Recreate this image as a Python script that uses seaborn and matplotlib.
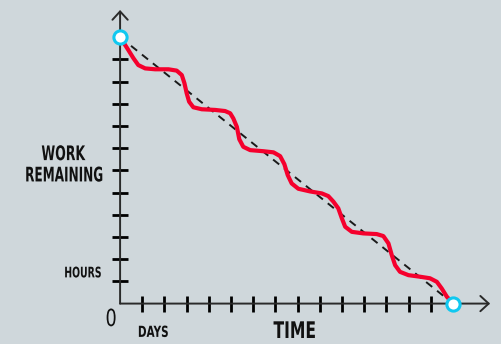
import matplotlib
matplotlib.use('Agg')
import matplotlib.pyplot as plt
from matplotlib import patheffects
from matplotlib.transforms import Affine2D
import seaborn as sns
import pandas as pd

# burndown curve (days, hours remaining)
curve_days = [0, 0.37, 0.60, 0.82, 1.13, 1.58, 2.18, 2.55, 2.78, 2.90, 3.00, 3.11,
              3.30, 3.68, 4.28, 4.73, 4.96, 5.10, 5.26, 5.37, 5.55, 5.86, 6.46, 6.91,
              7.21, 7.40, 7.55, 7.73, 8.03, 8.56, 9.09, 9.38, 9.61, 9.83, 9.99, 10.14,
              10.44, 10.96, 11.56, 11.86, 12.09, 12.24, 12.39, 12.61, 12.99, 13.51,
              13.96, 14.27, 14.49, 14.72, 15.0]
curve_hours = [12.0, 11.42, 11.05, 10.74, 10.59, 10.55, 10.55, 10.49, 10.29, 9.92, 9.47, 9.09,
               8.84, 8.75, 8.72, 8.67, 8.57, 8.34, 7.96, 7.40, 7.06, 6.91, 6.86, 6.81,
               6.64, 6.28, 5.79, 5.41, 5.17, 5.05, 4.96, 4.84, 4.59, 4.29, 3.84, 3.46,
               3.23, 3.16, 3.13, 3.04, 2.71, 2.18, 1.73, 1.43, 1.28, 1.21,
               1.14, 0.98, 0.68, 0.31, 0.0]
ideal_days = [0, 15]
ideal_hours = [12, 0]
day_ticks = list(range(1, 15))
hour_ticks = list(range(1, 12))

BG = '#cfd7db'
RED = '#f5002d'
CYAN = '#10c8f0'


class Narrow(patheffects.AbstractPathEffect):
    """squeeze glyphs sideways around their own centre (hand-lettered look)"""
    def __init__(self, sx):
        super().__init__()
        self.sx = sx

    def draw_path(self, renderer, gc, tpath, affine, rgbFace=None):
        ext = tpath.get_extents()
        cx = (ext.x0 + ext.x1) / 2
        squeeze = Affine2D().translate(-cx, 0).scale(self.sx, 1).translate(cx, 0)
        renderer.draw_path(gc, tpath, squeeze + affine, rgbFace)


sns.set_style('white', {'axes.facecolor': BG, 'figure.facecolor': BG})
plt.rcParams['font.family'] = ['DejaVu Sans']

fig = plt.figure(figsize=(5.01, 3.44), dpi=100)
ax = fig.add_axes([0, 0, 1, 1])
ax.set_xlim(-5.41, 17.16)
ax.set_ylim(-1.82, 13.67)

curve = pd.DataFrame({'day': curve_days, 'hours': curve_hours})
ideal = pd.DataFrame({'day': ideal_days, 'hours': ideal_hours})

sns.lineplot(data=ideal, x='day', y='hours', ax=ax, color='#1a1a1a', lw=1.4,
             linestyle=(0, (4, 3.2)), zorder=3)
sns.lineplot(data=curve, x='day', y='hours', ax=ax, color=RED, lw=3.0,
             sort=False, zorder=4, solid_capstyle='round', solid_joinstyle='round')
ax.plot(ideal_days, ideal_hours, 'o', ms=9.5, mfc='white', mec=CYAN, mew=2.2,
        zorder=6, clip_on=False)

# axes drawn as arrows
for spine in ax.spines.values():
    spine.set_visible(False)
ax.spines['left'].set_position(('data', 0))
ax.spines['bottom'].set_position(('data', 0))
arrow = dict(arrowstyle='->, head_length=0.6, head_width=0.55', lw=1.4,
             color='#2a2a2a', shrinkA=0, shrinkB=0)
ax.annotate('', xy=(0, 13.22), xytext=(0, 0), arrowprops=arrow, zorder=2)
ax.annotate('', xy=(16.67, 0), xytext=(0, 0), arrowprops=arrow, zorder=2)

ax.set_xticks(day_ticks)
ax.set_yticks(hour_ticks)
ax.set_xticklabels([])
ax.set_yticklabels([])
ax.tick_params(axis='both', direction='inout', length=11, width=2, color='black',
               bottom=True, left=True)
ax.set_xlabel('')
ax.set_ylabel('')

labels = [
    ('WORK', -2.57, 6.46, 14.5, 'bold', 0.62),
    ('REMAINING', -2.52, 5.50, 14.5, 'bold', 0.60),
    ('HOURS', -1.67, 1.18, 10.5, 'bold', 0.64),
    ('0', -0.405, -1.01, 17, 'normal', 0.75),
    ('DAYS', 1.49, -1.50, 11, 'bold', 0.68),
    ('TIME', 7.88, -1.55, 16.5, 'bold', 0.68),
]
for s, x, y, size, weight, sx in labels:
    ax.text(x, y, s, ha='center', va='baseline', fontsize=size, fontweight=weight,
            color='#111111', path_effects=[Narrow(sx)])

plt.savefig('out.png', dpi=100, facecolor=BG)
plt.close()
